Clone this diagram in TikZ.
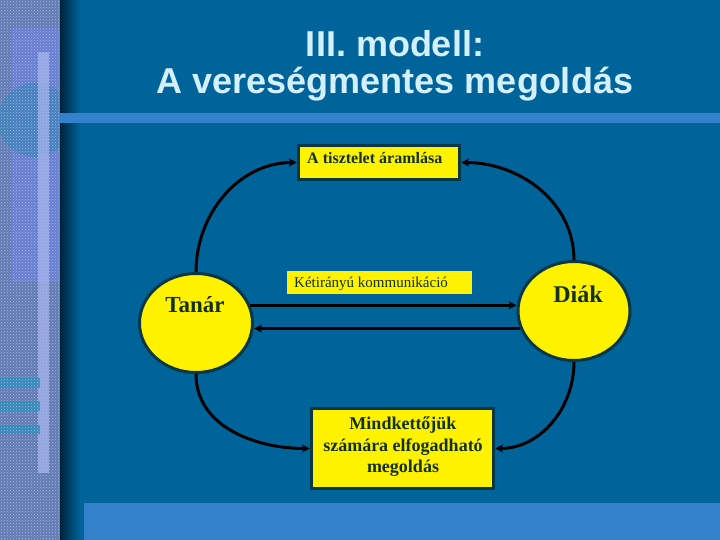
\documentclass[tikz,border=0pt]{standalone}
\usepackage{fontspec}
\setmainfont{Liberation Serif}
\newfontfamily\titlefont{Liberation Sans}
\usetikzlibrary{shapes.geometric,arrows.meta,patterns}
\definecolor{bg}{RGB}{0,99,153}
\definecolor{bandc}{RGB}{51,128,204}
\definecolor{stripc}{RGB}{96,122,178}
\definecolor{stripdot}{RGB}{170,186,226}
\definecolor{violetc}{RGB}{108,128,230}
\definecolor{circc}{RGB}{60,128,186}
\definecolor{vbarc}{RGB}{168,180,240}
\definecolor{tealbar}{RGB}{40,140,185}
\definecolor{shadowc}{RGB}{0,35,60}
\definecolor{titlec}{RGB}{210,240,255}
\definecolor{edgec}{RGB}{10,55,70}
\definecolor{txtc}{RGB}{18,48,26}
\tikzset{
  ovalnode/.style={ellipse, draw=edgec, line width=3pt, fill=yellow, inner sep=0pt},
  boxnode/.style={rectangle, draw=edgec, line width=3.5pt, fill=yellow, inner sep=0pt},
  plainbox/.style={rectangle, fill=yellow, inner sep=0pt},
  lbl/.style={inner sep=0pt, text=txtc},
  titletxt/.style={inner sep=0pt, text=titlec, font=\titlefont\bfseries\fontsize{36}{38}\selectfont},
  arr/.style={line width=3pt, draw=black, -{Stealth[length=8pt,width=8pt]}}
}
\begin{document}
\begin{tikzpicture}[x=1pt,y=1pt]
\useasboundingbox (0,0) rectangle (720,-540);
\fill[bg] (0,0) rectangle (720,-540);
% left decorative strip
\fill[stripc] (0,0) rectangle (60,-540);
\fill[violetc, opacity=0.6] (12,-28) rectangle (60,-282);
\begin{scope}
  \clip (0,0) rectangle (60,-540);
  \fill[circc, opacity=0.85] (35,-120) circle (37);
\end{scope}
\fill[vbarc, opacity=0.75] (38,-52) rectangle (49,-473);
\fill[tealbar, opacity=0.85] (0,-378) rectangle (40,-388);
\fill[tealbar, opacity=0.85] (0,-401) rectangle (40,-411);
\fill[tealbar, opacity=0.85] (0,-425) rectangle (40,-434);
\fill[pattern=crosshatch dots, pattern color=stripdot] (0,0) rectangle (60,-540);
\shade[left color=shadowc, right color=bg] (60,0) rectangle (80,-540);
% bands
\fill[bandc] (60,-113) rectangle (720,-123);
\fill[bandc] (84,-503) rectangle (720,-540);
% title
\node[titletxt, anchor=base] (title1) at (395,-57) {III. modell:};
\node[titletxt, anchor=base] (title2) at (395,-94) {A vereségmentes megoldás};
% nodes
\node[ovalnode, minimum width=113, minimum height=99] (T) at (196,-323) {};
\node[ovalnode, minimum width=112, minimum height=99] (D) at (574,-311) {};
\node[boxnode, minimum width=161, minimum height=34] (top) at (379,-162.5) {};
\node[plainbox, minimum width=185, minimum height=23] (mid) at (379.5,-282.5) {};
\node[boxnode, minimum width=182, minimum height=80] (bot) at (402.5,-448.5) {};
% labels
\node[lbl, font=\bfseries\fontsize{16}{18}\selectfont, anchor=west] (toptxt) at (307,-158) {A tisztelet áramlása};
\node[lbl, font=\fontsize{15}{16}\selectfont, anchor=west] (midtxt) at (294,-284) {Kétirányú kommunikáció};
\node[lbl, font=\bfseries\fontsize{18}{21.5}\selectfont, align=center] (bottxt) at (403,-447) {Mindkettőjük\\számára elfogadható\\megoldás};
\node[lbl, font=\bfseries\fontsize{23}{24}\selectfont] (Tt) at (195,-305) {Tanár};
\node[lbl, font=\bfseries\fontsize{24}{26}\selectfont] (Dt) at (578,-294) {Diák};
% connectors
\draw[arr] (T.north) to[out=90,in=180] (top.west);
\draw[arr] (D.north) to[out=90,in=0] (top.east);
\draw[arr] (T.south) to[out=-90,in=180] (bot.west);
\draw[arr] (D.south) to[out=-90,in=0] (bot.east);
\draw[arr] (T.18) -- (T.18 -| D.west);
\draw[arr] (D.198) -- (D.198 -| T.east);
\end{tikzpicture}
\end{document}
